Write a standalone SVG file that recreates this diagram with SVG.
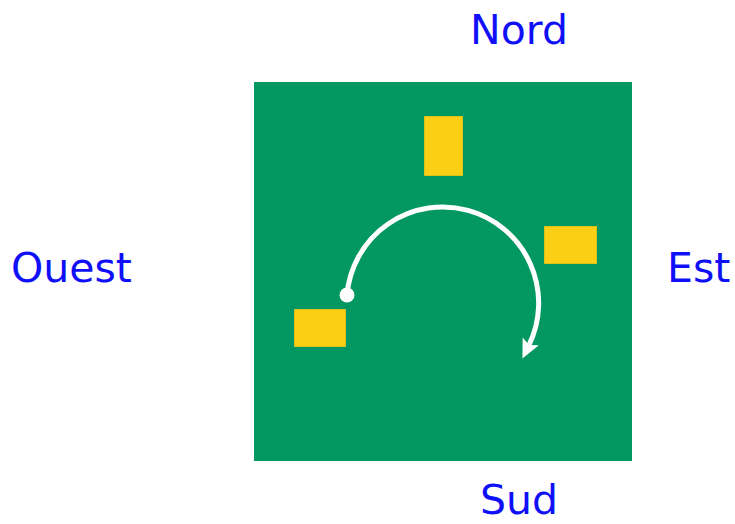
<svg xmlns="http://www.w3.org/2000/svg" width="735" height="524" viewBox="0 0 735 524">
<defs>
<style>
.lbl{font-family:"DejaVu Sans","Liberation Sans",sans-serif;font-size:41px;fill:#1010f8}
.pad{fill:#fccf14;stroke:#d9c21a;stroke-width:1}
</style>
<marker id="ah" markerUnits="userSpaceOnUse" markerWidth="26" markerHeight="26" refX="4" refY="9" orient="auto">
<path d="M0,0 L19,9 L0,18 L4,9 Z" fill="#fff"/>
</marker>
</defs>
<rect width="735" height="524" fill="#fff"/>
<g id="board"><rect x="254" y="82" width="378" height="379" fill="#039762"/></g>
<g id="pad-north"><rect class="pad" x="424.5" y="116.5" width="38" height="59"/></g>
<g id="pad-east"><rect class="pad" x="544.5" y="226.5" width="52" height="37"/></g>
<g id="pad-west"><rect class="pad" x="294.5" y="309.5" width="51" height="37"/></g>
<g id="connectors">
<path d="M347,295 A96,96 0 1 1 529,345" fill="none" stroke="#fff" stroke-width="5" marker-end="url(#ah)"/>
<circle cx="347" cy="295" r="7.5" fill="#fff"/>
</g>
<g id="nord"><text class="lbl" x="519" y="44" text-anchor="middle">Nord</text></g>
<g id="ouest"><text class="lbl" x="11" y="282">Ouest</text></g>
<g id="est"><text class="lbl" x="667" y="282">Est</text></g>
<g id="sud"><text class="lbl" x="519" y="514" text-anchor="middle">Sud</text></g>
</svg>
